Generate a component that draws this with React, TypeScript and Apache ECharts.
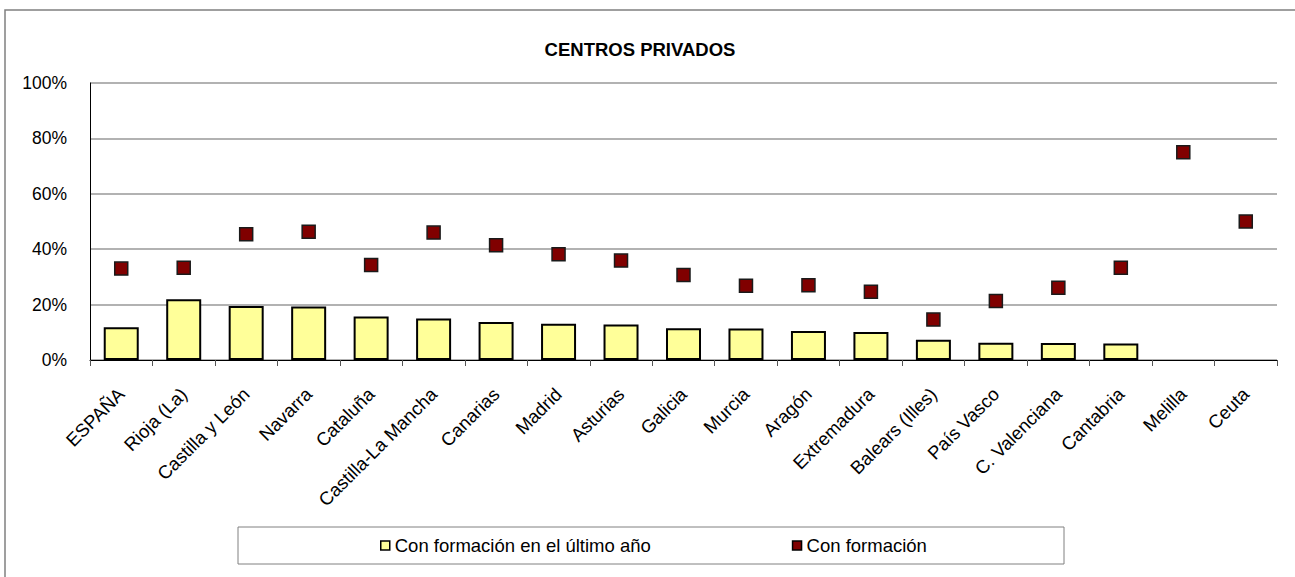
import React, { useEffect, useRef } from "react";
import * as echarts from "echarts";

const categories = [
  "ESPAÑA",
  "Rioja (La)",
  "Castilla y León",
  "Navarra",
  "Cataluña",
  "Castilla-La Mancha",
  "Canarias",
  "Madrid",
  "Asturias",
  "Galicia",
  "Murcia",
  "Aragón",
  "Extremadura",
  "Balears (Illes)",
  "País Vasco",
  "C. Valenciana",
  "Cantabria",
  "Melilla",
  "Ceuta",
];

const lastYear = [11.8, 21.9, 19.5, 19.3, 15.7, 15.0, 13.7, 13.1, 12.8, 11.5, 11.4, 10.5, 10.1, 7.3, 6.2, 6.1, 6.0, null, null];
const withTraining = [33.0, 33.3, 45.4, 46.3, 34.3, 46.0, 41.4, 38.2, 35.9, 30.7, 26.8, 27.0, 24.6, 14.6, 21.3, 26.1, 33.3, 75.0, 50.0];

const seriesNames = ["Con formación en el último año", "Con formación"];
const titleText = "CENTROS PRIVADOS";

const FONT = "'Liberation Sans', Arial, Helvetica, sans-serif";

export default function App() {
  const ref = useRef<HTMLDivElement>(null);

  useEffect(() => {
    if (!ref.current) return;
    const chart = echarts.init(ref.current, undefined, { renderer: "svg" });
    chart.setOption({
      animation: false,
      backgroundColor: "#ffffff",
      textStyle: { fontFamily: FONT },
      graphic: [
        {
          type: "rect",
          shape: { x: 5, y: 10, width: 1300, height: 580 },
          style: { fill: "none", stroke: "#808080", lineWidth: 1.5 },
          silent: true,
          z: -1,
        },
        {
          type: "text",
          x: 640,
          y: 49,
          style: {
            text: titleText,
            fontFamily: FONT,
            fontSize: 18.5,
            fontWeight: "bold",
            fill: "#000000",
            textAlign: "center",
            textVerticalAlign: "middle",
          },
        },
        {
          type: "rect",
          shape: { x: 238, y: 527, width: 826, height: 37 },
          style: { fill: "#ffffff", stroke: "#808080", lineWidth: 1 },
          silent: true,
          z: -1,
        },
      ],
      legend: {
        left: 380,
        top: 536,
        padding: 0,
        itemGap: 141,
        itemWidth: 9,
        itemHeight: 9,
        textStyle: { fontFamily: FONT, fontSize: 18.5, color: "#000000" },
        itemStyle: { borderColor: "#000000", borderWidth: 1.5 },
        data: [
          { name: seriesNames[0], icon: "rect" },
          { name: seriesNames[1], icon: "rect" },
        ],
      },
      grid: { left: 90, right: 18, top: 83, bottom: 217 },
      xAxis: {
        type: "category",
        data: categories,
        boundaryGap: true,
        axisLine: { lineStyle: { color: "#000000", width: 1 } },
        axisTick: { show: true, alignWithLabel: false, length: 6, lineStyle: { color: "#555555" } },
        axisLabel: {
          rotate: 45,
          interval: 0,
          margin: 31,
          fontFamily: FONT,
          fontSize: 18.5,
          color: "#000000",
        },
        splitLine: { show: false },
      },
      yAxis: {
        type: "value",
        min: 0,
        max: 100,
        interval: 20,
        axisLine: { show: true, lineStyle: { color: "#000000", width: 1 } },
        axisTick: { show: false },
        axisLabel: {
          formatter: "{value}%",
          margin: 23,
          fontFamily: FONT,
          fontSize: 17.5,
          color: "#000000",
        },
        splitLine: { show: true, lineStyle: { color: "#999999", width: 1.5 } },
      },
      series: [
        {
          name: seriesNames[0],
          type: "bar",
          data: lastYear,
          barWidth: 35,
          itemStyle: { color: "#FFFF99", borderColor: "#000000", borderWidth: 2 },
        },
        {
          name: seriesNames[1],
          type: "scatter",
          data: withTraining,
          symbol: "rect",
          symbolSize: 13,
          itemStyle: { color: "#800000", borderColor: "#1a1a1a", borderWidth: 1.5, opacity: 1 },
          z: 3,
        },
      ],
    });
    return () => chart.dispose();
  }, []);

  return (
    <div
      ref={ref}
      style={{ position: "absolute", left: 0, top: 0, width: 1295, height: 577 }}
    />
  );
}
